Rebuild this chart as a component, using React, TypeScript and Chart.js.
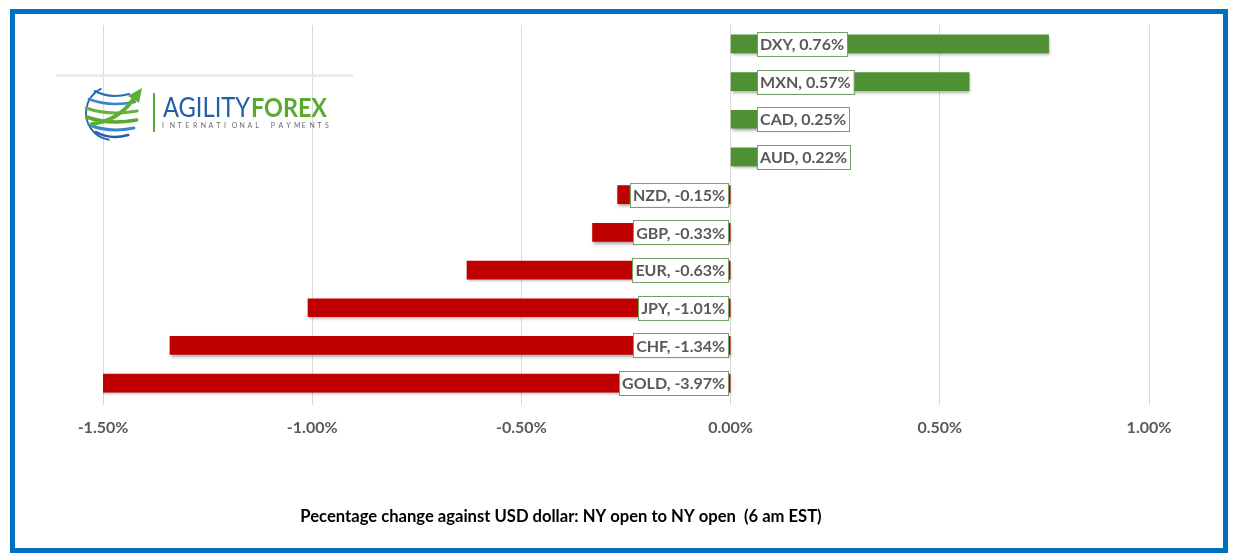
import React, { useEffect, useRef } from "react";
import { Chart, registerables } from "chart.js";

Chart.register(...registerables);

const categories = ["DXY", "MXN", "CAD", "AUD", "NZD", "GBP", "EUR", "JPY", "CHF", "GOLD"];
const barValues = [0.76, 0.57, 0.25, 0.22, -0.27, -0.33, -0.63, -1.01, -1.34, -3.97];
const labelValues = [0.76, 0.57, 0.25, 0.22, -0.15, -0.33, -0.63, -1.01, -1.34, -3.97];
const axisMin = -1.5;
const axisMax = 1.0;
const axisStep = 0.5;
const titleText = "Pecentage change against USD dollar: NY open to NY open  (6 am EST)";

const GREEN = "#4e9033";
const RED = "#c00000";
const FONT = "Lato, 'Open Sans', sans-serif";

const shadowPlugin = {
  id: "barShadow",
  beforeDatasetsDraw(chart: any) {
    const ctx = chart.ctx;
    ctx.save();
    ctx.shadowColor = "rgba(0,0,0,0.35)";
    ctx.shadowBlur = 3;
    ctx.shadowOffsetX = 1;
    ctx.shadowOffsetY = 2;
  },
  afterDatasetsDraw(chart: any) {
    chart.ctx.restore();
  },
};

const labelPlugin = {
  id: "boxLabels",
  afterDatasetsDraw(chart: any) {
    const ctx = chart.ctx;
    const meta = chart.getDatasetMeta(0);
    ctx.save();
    ctx.font = `bold 16px ${FONT}`;
    ctx.textBaseline = "middle";
    meta.data.forEach((el: any, i: number) => {
      const v = labelValues[i];
      const text = `${categories[i]}, ${v.toFixed(2)}%`;
      const w = ctx.measureText(text).width + 6;
      const h = 24;
      const base = el.base;
      const left = barValues[i] >= 0 ? base + 26 : base - 2 - w;
      const top = el.y - h / 2;
      ctx.fillStyle = "#ffffff";
      ctx.fillRect(left, top, w, h);
      ctx.strokeStyle = "#77a068";
      ctx.lineWidth = 1;
      ctx.strokeRect(Math.round(left) + 0.5, Math.round(top) + 0.5, Math.round(w), h);
      ctx.fillStyle = "#595959";
      ctx.textAlign = "left";
      ctx.fillText(text, left + 3, el.y + 1);
    });
    ctx.restore();
  },
};

const decorPlugin = {
  id: "decor",
  afterDraw(chart: any) {
    const ctx = chart.ctx;
    ctx.save();
    // frame
    ctx.strokeStyle = "#0070c0";
    ctx.lineWidth = 5;
    ctx.strokeRect(12.5, 11.5, 1213, 539);
    // title
    ctx.fillStyle = "#000000";
    ctx.font = `bold 16.6px ${FONT}`;
    ctx.textAlign = "center";
    ctx.textBaseline = "middle";
    ctx.fillText(titleText, 561, 517, 524);

    // logo separator line
    ctx.fillStyle = "#ececec";
    ctx.fillRect(56, 74, 297, 3);
    // globe
    const cx = 113, cy = 113, r = 27;
    ctx.lineCap = "round";
    ctx.strokeStyle = "#2a6db5";
    ctx.lineWidth = 2;
    ctx.beginPath();
    ctx.arc(cx, cy, r, Math.PI * 0.55, Math.PI * 1.35);
    ctx.stroke();
    const bands = [
      { dy: -20, c: "#2a6db5", w: 2 },
      { dy: -12, c: "#3a86c8", w: 2.5 },
      { dy: -3, c: "#6ab23e", w: 3 },
      { dy: 6, c: "#5aa832", w: 3.5 },
      { dy: 14, c: "#3a86c8", w: 3 },
      { dy: 21, c: "#1f5ea8", w: 2.5 },
    ];
    bands.forEach((b) => {
      const y = cy + b.dy;
      const half = Math.sqrt(Math.max(r * r - b.dy * b.dy, 0));
      ctx.strokeStyle = b.c;
      ctx.lineWidth = b.w;
      ctx.beginPath();
      ctx.moveTo(cx - half, y - 2);
      ctx.quadraticCurveTo(cx - half * 0.2, y + 6, cx + half * 0.9, y + 1);
      ctx.stroke();
    });
    // arrow
    ctx.strokeStyle = "#5ab032";
    ctx.lineWidth = 4;
    ctx.beginPath();
    ctx.moveTo(92, 124);
    ctx.quadraticCurveTo(120, 120, 134, 98);
    ctx.stroke();
    ctx.fillStyle = "#5ab032";
    ctx.beginPath();
    ctx.moveTo(142, 88);
    ctx.lineTo(139, 103);
    ctx.lineTo(128, 96);
    ctx.closePath();
    ctx.fill();
    // vertical line
    ctx.fillStyle = "#5aaa32";
    ctx.fillRect(153, 93, 2, 39);
    // text
    ctx.textAlign = "left";
    ctx.textBaseline = "alphabetic";
    ctx.font = `normal 26px ${FONT}`;
    ctx.fillStyle = "#1f5ea8";
    ctx.fillText("AGILITY", 163, 117, 87);
    ctx.font = `bold 26px ${FONT}`;
    ctx.fillStyle = "#5aaa32";
    ctx.fillText("FOREX", 251, 117, 76);
    // subtitle
    const sub = "INTERNATIONAL PAYMENTS";
    ctx.font = `normal 7px ${FONT}`;
    ctx.fillStyle = "#6a6a6a";
    const x0 = 164, x1 = 327;
    const step = (x1 - x0) / (sub.length - 1);
    for (let i = 0; i < sub.length; i++) {
      ctx.fillText(sub[i], x0 + i * step - 2, 128);
    }
    ctx.restore();
  },
};

export default function App() {
  const ref = useRef<HTMLCanvasElement>(null);
  useEffect(() => {
    document.body.style.margin = "0";
    const chart = new Chart(ref.current as HTMLCanvasElement, {
      type: "bar",
      data: {
        labels: categories,
        datasets: [
          {
            data: barValues,
            backgroundColor: barValues.map((v) => (v >= 0 ? GREEN : RED)),
            barThickness: 18,
            borderWidth: 0,
          },
        ],
      },
      options: {
        indexAxis: "y",
        responsive: false,
        animation: false,
        events: [],
        layout: { padding: { left: 103, right: 95, top: 25, bottom: 118 } },
        plugins: { legend: { display: false }, tooltip: { enabled: false }, title: { display: false } },
        scales: {
          x: {
            min: axisMin,
            max: axisMax,
            afterFit: (s: any) => {
              s.height = 40;
            },
            ticks: {
              stepSize: axisStep,
              padding: 13,
              color: "#595959",
              font: { family: FONT, size: 16, weight: "bold" },
              callback: (v: any) => Number(v).toFixed(2) + "%",
            },
            grid: { color: "#d9d9d9", lineWidth: 1, drawTicks: true, tickLength: 3 },
            border: { display: false },
          },
          y: { display: false },
        },
      } as any,
      plugins: [shadowPlugin, labelPlugin, decorPlugin],
    });
    return () => chart.destroy();
  }, []);
  return (
    <div style={{ position: "absolute", left: 0, top: 0, width: 1244, height: 560, background: "#fff" }}>
      <canvas ref={ref} width={1244} height={560} style={{ width: 1244, height: 560 }} />
    </div>
  );
}
